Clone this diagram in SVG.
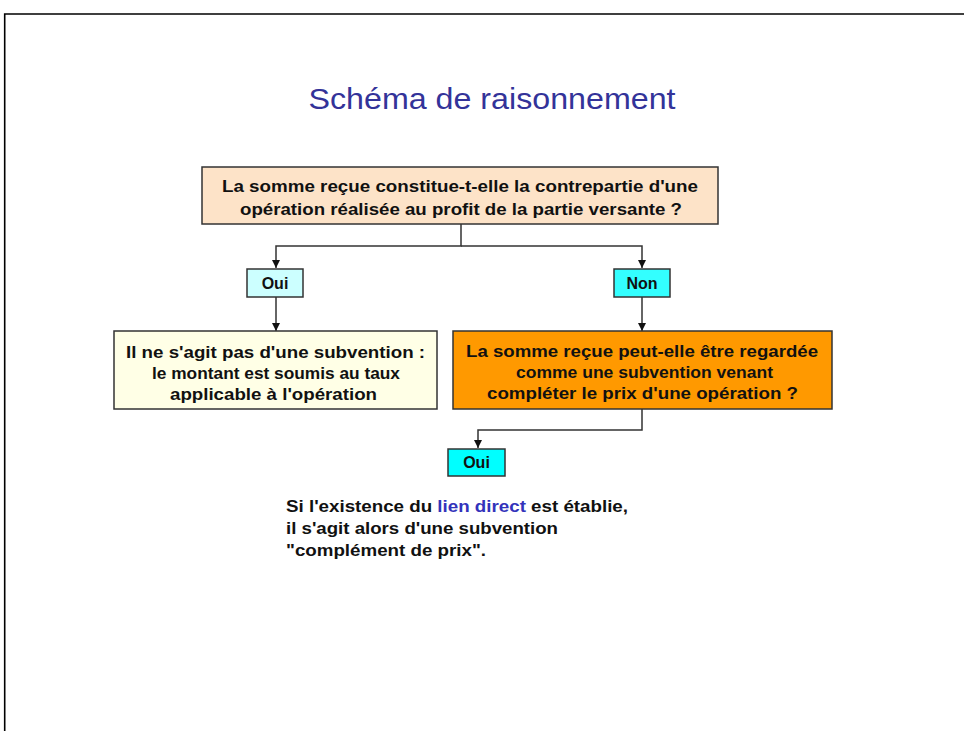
<svg xmlns="http://www.w3.org/2000/svg" width="964" height="731" viewBox="0 0 964 731">
<style>
.box{stroke:#333;stroke-width:1.5}
.t{font-family:"Liberation Sans",Arial,sans-serif;font-weight:bold;font-size:16px;fill:#111;text-anchor:middle}
.bt{font-family:"Liberation Sans",Arial,sans-serif;font-weight:bold;font-size:16px;fill:#111}
.c{fill:none;stroke:#333;stroke-width:1.5}
</style>
<defs>
<marker id="ah" viewBox="0 0 10 10" refX="10" refY="5" markerWidth="8" markerHeight="8" markerUnits="userSpaceOnUse" orient="auto">
<path d="M0,0 L10,5 L0,10 z" fill="#111"/>
</marker>
</defs>
<rect width="964" height="731" fill="#fff"/>
<path d="M4.7,731 V14 H964" fill="none" stroke="#000" stroke-width="1.6"/>
<text x="492" y="109" font-family="Liberation Sans,Arial,sans-serif" font-size="30" fill="#333399" text-anchor="middle" textLength="367" lengthAdjust="spacingAndGlyphs">Schéma de raisonnement</text>

<g id="connectors">
<path class="c" d="M461,224 V246 H276 V268" marker-end="url(#ah)"/>
<path class="c" d="M461,246 H642 V268" marker-end="url(#ah)"/>
<path class="c" d="M276,297 V331" marker-end="url(#ah)"/>
<path class="c" d="M642,297 V331" marker-end="url(#ah)"/>
<path class="c" d="M642,409 V430 H478 V448" marker-end="url(#ah)"/>
</g>

<g id="q1">
<rect class="box" x="202" y="167" width="516" height="57" fill="#fde3c8"/>
<text class="t" x="460" y="192" textLength="476" lengthAdjust="spacingAndGlyphs">La somme reçue constitue-t-elle la contrepartie d'une</text>
<text class="t" x="461" y="215" textLength="442" lengthAdjust="spacingAndGlyphs">opération réalisée au profit de la partie versante ?</text>
</g>

<g id="oui1">
<rect class="box" x="247" y="269" width="56" height="28" fill="#ccffff"/>
<text class="t" x="275" y="289">Oui</text>
</g>

<g id="non">
<rect class="box" x="614" y="269" width="56" height="28" fill="#33ffff"/>
<text class="t" x="642" y="289">Non</text>
</g>

<g id="r1">
<rect class="box" x="114" y="331" width="323" height="78" fill="#ffffe6"/>
<text class="t" x="275.5" y="358" textLength="299" lengthAdjust="spacingAndGlyphs">Il ne s'agit pas d'une subvention :</text>
<text class="t" x="276" y="379" textLength="248" lengthAdjust="spacingAndGlyphs">le montant est soumis au taux</text>
<text class="t" x="273.5" y="400" textLength="207" lengthAdjust="spacingAndGlyphs">applicable à l'opération</text>
</g>

<g id="q2">
<rect class="box" x="453" y="331" width="379" height="78" fill="#ff9900"/>
<text class="t" x="642" y="357" textLength="352" lengthAdjust="spacingAndGlyphs">La somme reçue peut-elle être regardée</text>
<text class="t" x="644.5" y="378" textLength="257" lengthAdjust="spacingAndGlyphs">comme une subvention venant</text>
<text class="t" x="642.5" y="399" textLength="311" lengthAdjust="spacingAndGlyphs">compléter le prix d'une opération ?</text>
</g>

<g id="oui2">
<rect class="box" x="448" y="449" width="57" height="27" fill="#00ffff"/>
<text class="t" x="476.5" y="468">Oui</text>
</g>

<g id="note">
<text class="bt" x="286" y="512" textLength="342" lengthAdjust="spacingAndGlyphs">Si l'existence du <tspan fill="#3333bb">lien direct</tspan> est établie,</text>
<text class="bt" x="286" y="534" textLength="272" lengthAdjust="spacingAndGlyphs">il s'agit alors d'une subvention</text>
<text class="bt" x="286" y="556" textLength="200" lengthAdjust="spacingAndGlyphs">"complément de prix".</text>
</g>
</svg>
